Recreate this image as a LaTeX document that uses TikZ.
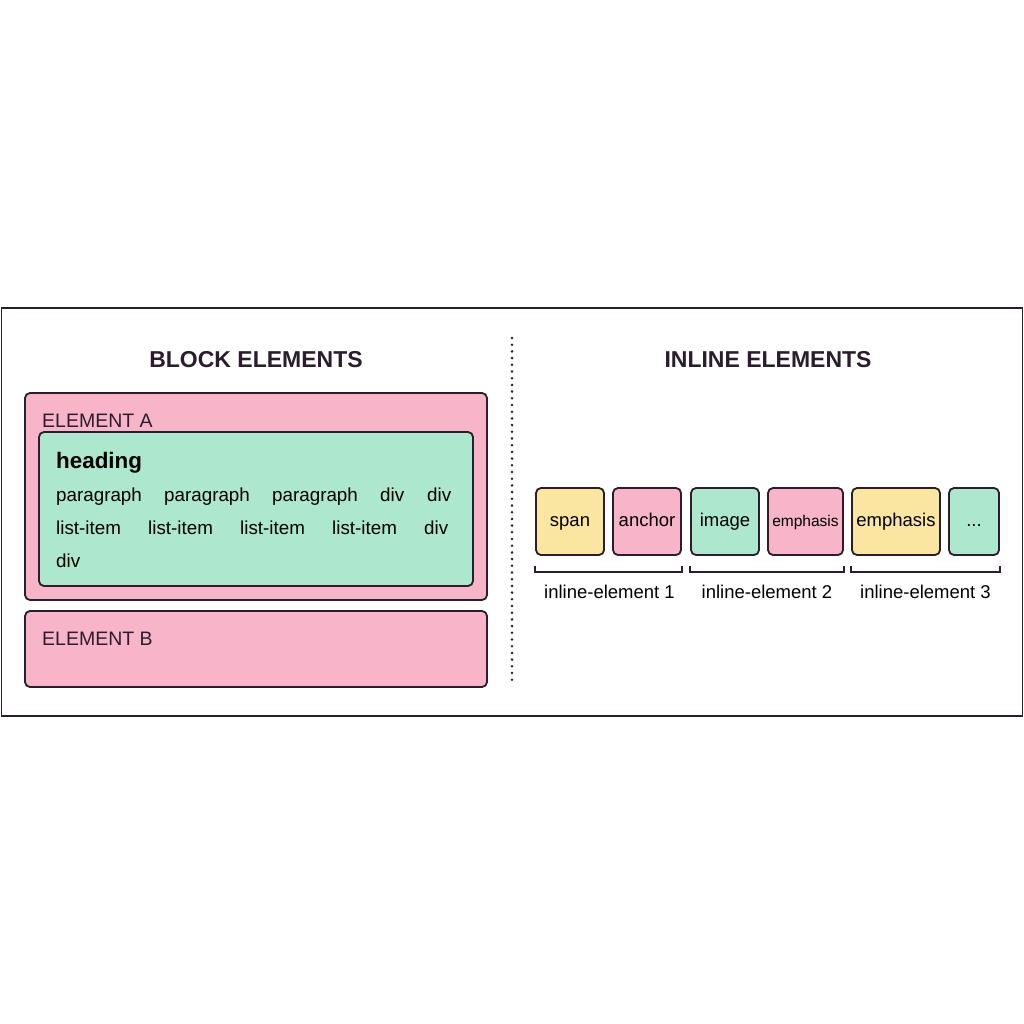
\documentclass[tikz,border=0pt]{standalone}
\usepackage{fontspec}
\setmainfont{Liberation Sans}
\definecolor{ink}{HTML}{2B1D2E}
\definecolor{pinkf}{HTML}{F8B4C8}
\definecolor{greenf}{HTML}{ADE8CE}
\definecolor{yellowf}{HTML}{FAE6A0}
\tikzset{
  box/.style={draw=ink, line width=1.8pt, rounded corners=5pt, inner sep=0pt},
  pinkbox/.style={box, fill=pinkf},
  greenbox/.style={box, fill=greenf},
  yellowbox/.style={box, fill=yellowf},
  lbl/.style={inner sep=0pt, anchor=base west, text=ink},
  word/.style={inner sep=0pt, anchor=base west, text=black, font=\fontsize{18.8}{22}\selectfont},
  title/.style={inner sep=0pt, anchor=base, text=ink, font=\bfseries\fontsize{23}{27}\selectfont},
  ibox/.style={minimum height=67pt, font=\fontsize{18.5}{22}\selectfont, text=black, text height=13pt, text depth=4pt},
  brk/.style={draw=ink, line width=1.5pt},
  captxt/.style={inner sep=0pt, anchor=base, text=black, font=\fontsize{18.5}{22}\selectfont}
}
\begin{document}
\begin{tikzpicture}[x=1pt,y=-1pt]
\useasboundingbox (0,0) rectangle (1024,1024);
\fill[white] (0,0) rectangle (1024,1024);
% outer frame
\node[draw=ink, line width=1.8pt, minimum width=1021pt, minimum height=408pt, inner sep=0pt] (frame) at (512,512) {};
% divider
\coordinate (dtop) at (512,338);
\coordinate (dbot) at (512,686);
\draw[ink, line width=2.8pt, line cap=round, dash pattern=on 0pt off 6.7pt] (dtop) -- (dbot);
% titles
\node[title] (tb) at (256,367) {BLOCK ELEMENTS};
\node[title] (ti) at (768,367) {INLINE ELEMENTS};
% element A
\node[pinkbox, minimum width=462pt, minimum height=207pt] (ea) at (256,496.5) {};
\node[lbl, font=\fontsize{19.5}{22}\selectfont] (eal) at (42,427) {ELEMENT A};
\node[greenbox, minimum width=434pt, minimum height=154pt] (g) at (256,509) {};
\node[inner sep=0pt, anchor=base west, font=\bfseries\fontsize{22.4}{25}\selectfont] (hd) at (56,468) {heading};
\node[word] (w1) at (56,501) {paragraph};
\node[word] (w2) at (164,501) {paragraph};
\node[word] (w3) at (272,501) {paragraph};
\node[word] (w4) at (380,501) {div};
\node[word] (w5) at (427,501) {div};
\node[word] (w6) at (56,534) {list-item};
\node[word] (w7) at (148,534) {list-item};
\node[word] (w8) at (240,534) {list-item};
\node[word] (w9) at (332,534) {list-item};
\node[word] (w10) at (424,534) {div};
\node[word] (w11) at (56,567) {div};
% element B
\node[pinkbox, minimum width=462pt, minimum height=76pt] (eb) at (256,649) {};
\node[lbl, font=\fontsize{19.5}{22}\selectfont] (ebl) at (42,645) {ELEMENT B};
% inline boxes
\node[yellowbox, ibox, minimum width=68pt] (s1) at (570,521.5) {span};
\node[pinkbox, ibox, minimum width=68pt] (s2) at (647,521.5) {anchor};
\node[greenbox, ibox, minimum width=68pt] (s3) at (725,521.5) {image};
\node[pinkbox, ibox, minimum width=75pt, font=\fontsize{15.5}{18}\selectfont] (s4) at (805.5,521.5) {emphasis};
\node[yellowbox, ibox, minimum width=88pt] (s5) at (896,521.5) {emphasis};
\node[greenbox, ibox, minimum width=50pt] (s6) at (974,521.5) {...};
% brackets
\draw[brk] ([yshift=-10pt]s1.south west) -- ([yshift=-16pt]s1.south west) -- ([yshift=-16pt]s2.south east) -- ([yshift=-10pt]s2.south east);
\draw[brk] ([yshift=-10pt]s3.south west) -- ([yshift=-16pt]s3.south west) -- ([yshift=-16pt]s4.south east) -- ([yshift=-10pt]s4.south east);
\draw[brk] ([yshift=-10pt]s5.south west) -- ([yshift=-16pt]s5.south west) -- ([yshift=-16pt]s6.south east) -- ([yshift=-10pt]s6.south east);
\node[captxt] (c1) at (609.5,598) {inline-element 1};
\node[captxt] (c2) at (767,598) {inline-element 2};
\node[captxt] (c3) at (925.5,598) {inline-element 3};
\end{tikzpicture}
\end{document}
